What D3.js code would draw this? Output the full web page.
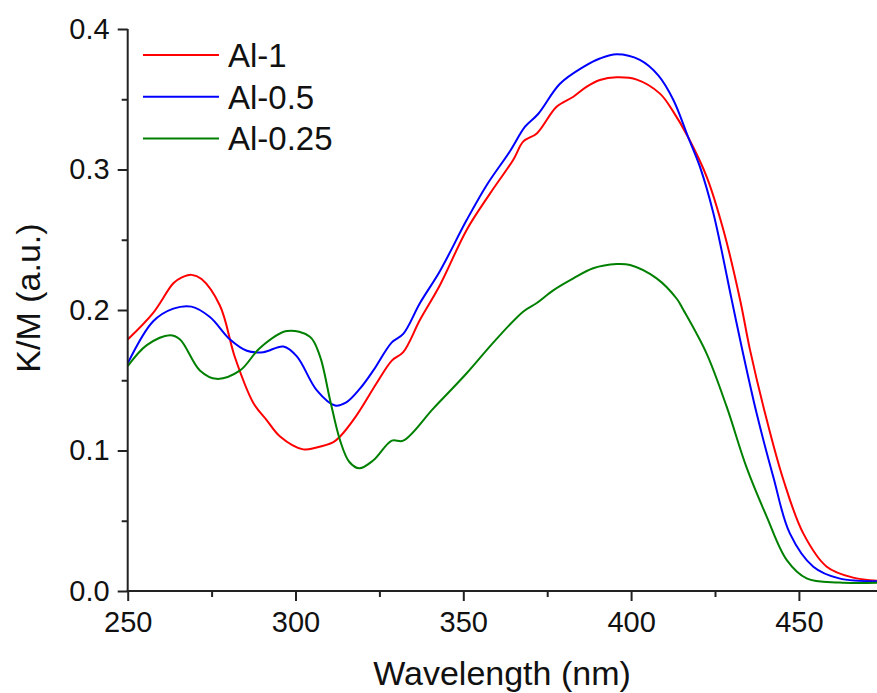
<!DOCTYPE html>
<html>
<head>
<meta charset="utf-8">
<script src="https://cdn.jsdelivr.net/npm/d3@7"></script>
<style>
    body { margin: 0; background: #fff; }
    text { font-family: 'Liberation Sans', Arial, sans-serif; fill: #111; }
</style>
</head>
<body>
<div id="chart"></div>
<script>
// wavelength (nm) and K/M values
const al1Wl = [250, 257.6, 263.6, 266, 269, 272, 277.5, 282, 287.4, 291.4, 295.4, 302.3, 306, 311.3, 313.3, 318.2, 324.2, 328.7, 332.1, 337.1, 343.1, 351, 358, 364.9, 367.9, 371.9, 377.8, 382.8, 386.8, 390.7, 395.7, 401.7, 408.6, 412.6, 417, 422.5, 427.5, 432.5, 435.4, 440.4, 445.4, 451.3, 458.3, 466.2, 475];
const al1Val = [0.179, 0.198, 0.219, 0.223, 0.225, 0.222, 0.203, 0.166, 0.134, 0.1217, 0.110, 0.1008, 0.102, 0.106, 0.110, 0.125, 0.148, 0.164, 0.170, 0.193, 0.218, 0.257, 0.283, 0.307, 0.320, 0.3257, 0.3447, 0.3518, 0.359, 0.3637, 0.3656, 0.364, 0.354, 0.341, 0.323, 0.295, 0.257, 0.207, 0.172, 0.122, 0.079, 0.041, 0.0173, 0.0095, 0.007];

const al05Wl = [250, 257.6, 263.6, 269, 274.5, 280.5, 285.5, 290.4, 296.4, 300.4, 306.3, 311.8, 315, 319.2, 323.2, 328.7, 332.1, 337.1, 343.1, 351, 357, 363.9, 368.4, 372.3, 378.8, 385.8, 390.7, 395.7, 402.6, 408.1, 412.6, 417, 420.5, 424.5, 430, 432.5, 437.4, 442.4, 447.3, 454.3, 462, 475];
const al05Val = [0.162, 0.192, 0.201, 0.2024, 0.195, 0.179, 0.171, 0.170, 0.174, 0.167, 0.143, 0.132, 0.134, 0.144, 0.157, 0.177, 0.183, 0.205, 0.228, 0.264, 0.289, 0.313, 0.3305, 0.3395, 0.361, 0.373, 0.379, 0.382, 0.378, 0.367, 0.3495, 0.323, 0.302, 0.269, 0.207, 0.1786, 0.1265, 0.081, 0.041, 0.0173, 0.009, 0.007];

const al025Wl = [250, 255.7, 262.6, 265.6, 271.5, 276.5, 283.5, 289.4, 297.4, 304.3, 307.3, 310.3, 313.3, 316, 319, 323.2, 328.7, 332.1, 341.1, 351, 359, 367.9, 371.9, 376.8, 382.8, 388.7, 395.7, 399.7, 407.6, 413.6, 415.6, 422.5, 428.5, 434.4, 440.4, 446.4, 452.3, 462, 475];
const al025Val = [0.160, 0.175, 0.182, 0.179, 0.157, 0.151, 0.157, 0.173, 0.185, 0.181, 0.167, 0.136, 0.107, 0.092, 0.0873, 0.093, 0.107, 0.107, 0.130, 0.155, 0.177, 0.199, 0.205, 0.214, 0.2225, 0.2297, 0.2327, 0.232, 0.2225, 0.208, 0.200, 0.169, 0.131, 0.088, 0.053, 0.022, 0.009, 0.006, 0.006];

const seriesNames = ['Al-1', 'Al-0.5', 'Al-0.25'];
const seriesColors = ['#ff0000', '#0000ff', '#008000'];

const xMajor = [250, 300, 350, 400, 450];
const xMinor = [275, 325, 375, 425];
const yMajor = [0.0, 0.1, 0.2, 0.3, 0.4];
const yMinor = [0.05, 0.15, 0.25, 0.35];

const chart = (() => {
    const width = 877;
    const height = 693;

    const series = [
        { name: seriesNames[0], color: seriesColors[0], wl: al1Wl, val: al1Val },
        { name: seriesNames[1], color: seriesColors[1], wl: al05Wl, val: al05Val },
        { name: seriesNames[2], color: seriesColors[2], wl: al025Wl, val: al025Val }
    ];

    const draw = () => {
        const svg = d3.select('#chart')
            .append('svg')
            .attr('width', width)
            .attr('height', height);

        const x = d3.scaleLinear()
            .domain([250, 475])
            .range([127.7, 882.8]);

        const y = d3.scaleLinear()
            .domain([0, 0.4])
            .range([591, 29]);

        const line = d3.line()
            .x(d => x(d[0]))
            .y(d => y(d[1]))
            .curve(d3.curveCatmullRom.alpha(0.5));

        svg.append('g')
            .selectAll('path')
            .data(series)
            .join('path')
            .attr('fill', 'none')
            .attr('stroke', d => d.color)
            .attr('stroke-width', 2)
            .attr('d', d => line(d.wl.map((w, i) => [w, d.val[i]])));

        // bottom axis
        const xAxis = svg.append('g')
            .attr('transform', `translate(0, ${y(0)})`);
        xAxis.call(d3.axisBottom(x).tickValues(xMinor).tickSize(6).tickFormat(''));
        xAxis.append('g')
            .call(d3.axisBottom(x).tickValues(xMajor).tickSize(10).tickPadding(10))
            .selectAll('text')
            .attr('font-size', '29px');
        xAxis.selectAll('path.domain').remove();
        xAxis.append('line')
            .attr('x1', x(250) - 1).attr('x2', width)
            .attr('stroke', '#222').attr('stroke-width', 2);

        // left axis
        const yAxis = svg.append('g')
            .attr('transform', `translate(${x(250)}, 0)`);
        yAxis.call(d3.axisLeft(y).tickValues(yMinor).tickSize(6).tickFormat(''));
        yAxis.append('g')
            .call(d3.axisLeft(y).tickValues(yMajor).tickSize(10).tickPadding(8).tickFormat(d3.format('.1f')))
            .selectAll('text')
            .attr('font-size', '29px');
        yAxis.selectAll('path.domain').remove();
        yAxis.append('line')
            .attr('y1', y(0) + 1).attr('y2', y(0.4))
            .attr('stroke', '#222').attr('stroke-width', 2);

        svg.selectAll('.tick line')
            .attr('stroke', '#222')
            .attr('stroke-width', 2);
        svg.selectAll('.tick text').style('fill', '#111');

        svg.append('text')
            .attr('x', 502)
            .attr('y', 685)
            .attr('text-anchor', 'middle')
            .attr('font-size', '34px')
            .text('Wavelength (nm)');

        svg.append('text')
            .attr('transform', 'translate(40, 298) rotate(-90)')
            .attr('text-anchor', 'middle')
            .attr('font-size', '34px')
            .text('K/M (a.u.)');

        // legend
        const legend = svg.append('g')
            .selectAll('g')
            .data(series)
            .join('g')
            .attr('transform', (d, i) => `translate(143, ${55 + i * 41.7})`);

        legend.append('line')
            .attr('x1', 0).attr('x2', 76)
            .attr('stroke', d => d.color)
            .attr('stroke-width', 2);

        legend.append('text')
            .attr('x', 85)
            .attr('y', 12)
            .attr('font-size', '33px')
            .text(d => d.name);
    };

    return { draw };
})();

chart.draw();
</script>
</body>
</html>
